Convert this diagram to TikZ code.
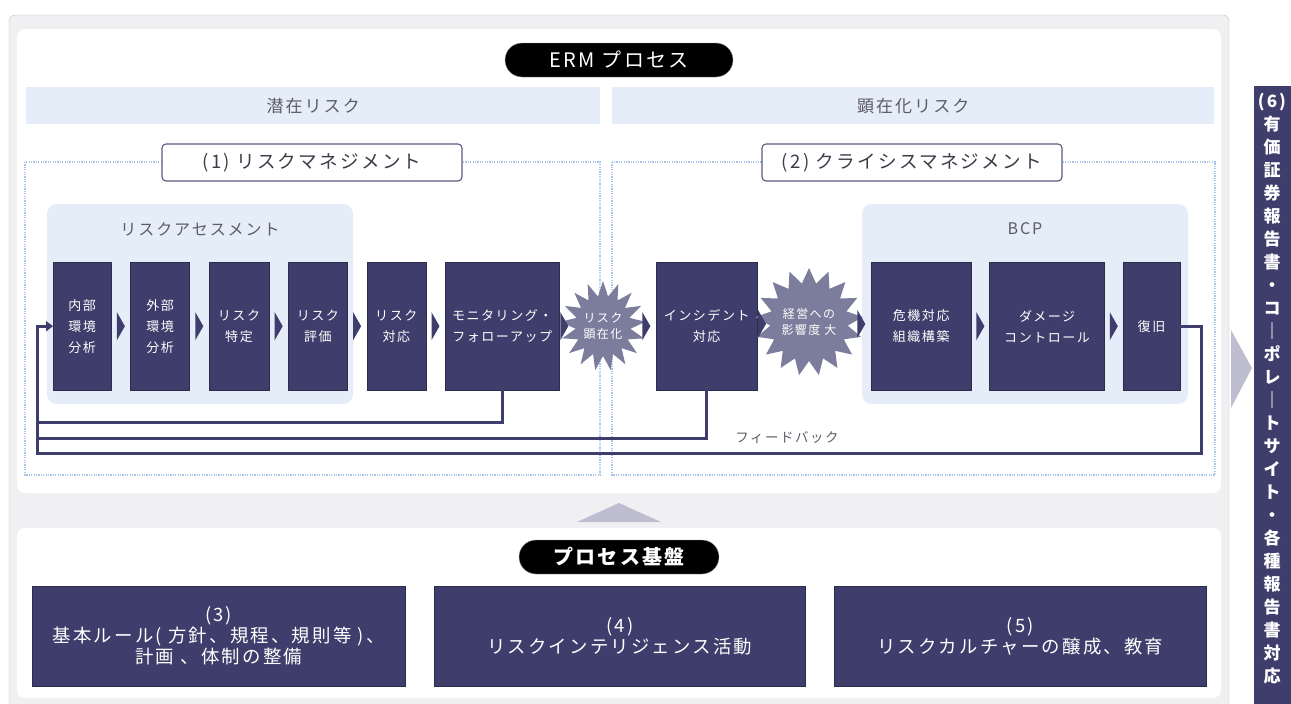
\documentclass[tikz,border=0pt]{standalone}
\usepackage{fontspec}
\setmainfont{Noto Sans CJK JP}[LetterSpace=12]
\usetikzlibrary{positioning,shapes.symbols,arrows.meta}

\definecolor{navy}{RGB}{62,61,107}
\definecolor{bandblue}{RGB}{228,237,248}
\definecolor{panel}{RGB}{240,240,243}
\definecolor{burstgray}{RGB}{124,124,156}
\definecolor{dotblue}{RGB}{168,198,232}
\definecolor{softtxt}{RGB}{92,92,104}
\definecolor{tagtxt}{RGB}{60,60,72}
\definecolor{trigray}{RGB}{190,190,208}

\newcommand\fs[2]{\fontsize{#1}{#2}\selectfont}

\tikzset{
  procbox/.style={fill=navy, draw=navy!70!black, text=white, align=center,
    inner sep=0pt, minimum height=128pt, font=\fs{13}{21}},
  basebox/.style={fill=navy, draw=navy!70!black, text=white, align=center,
    inner sep=0pt, minimum height=100pt, font=\fs{18.4}{21}},
  band/.style={fill=bandblue, text=softtxt, inner sep=0pt, minimum height=37pt,
    font=\fs{17}{20}},
  tag/.style={fill=white, draw=navy!85, line width=1.1pt, rounded corners=4pt,
    minimum width=300pt, minimum height=37pt, inner sep=0pt, text=tagtxt,
    font=\fs{18.6}{20}},
  pill/.style={fill=black, draw=black!40, text=white, rounded corners=17pt,
    minimum height=34pt, inner sep=0pt, font=\fs{20}{22}},
  burst/.style={starburst, random starburst=0, starburst points=17,
    starburst point height=15pt, fill=burstgray, text=white, align=center,
    inner sep=0pt, font=\fs{12}{16}},
  group/.style={fill=bandblue, rounded corners=10pt},
  grouptitle/.style={text=softtxt, font=\fs{16}{18}},
  dotframe/.style={draw=dotblue, line width=1.3pt, dash pattern=on 1.2pt off 1.2pt},
  fb/.style={draw=navy, line width=3pt},
  fbtxt/.style={text=softtxt, font=\fs{13.4}{16}},
  vtext/.style={text=white, align=center, inner sep=0pt, font=\fs{17}{23}\bfseries},
  chev/.pic={\fill[navy] (-4,-14) -- (4,0) -- (-4,14) -- cycle;}
}

\begin{document}
\begin{tikzpicture}[x=1pt,y=-1pt]
\useasboundingbox (0,0) rectangle (1291,704);

% panels
\draw[draw=black!25, fill=panel, rounded corners=6pt] (9,15) rectangle (1229,730);
\fill[white, rounded corners=8pt] (17,29) rectangle (1221,493);
\fill[white, rounded corners=8pt] (17,528) rectangle (1221,698);

% ERM process
\node[pill, minimum width=228pt] (erm) at (619,60) {ERM プロセス};
\node[band, minimum width=574pt, anchor=north west] (latent) at (26,87) {潜在リスク};
\node[band, minimum width=602pt, anchor=north west] (actual) at (612,87) {顕在化リスク};

\draw[dotframe] (25,162) rectangle (600,475);
\draw[dotframe] (612,162) rectangle (1215,475);
\node[tag] (rm) at (312,162.5) {(1) リスクマネジメント};
\node[tag] (cm) at (912,162.5) {(2) クライシスマネジメント};

\fill[group] (47,204) rectangle (353,404);
\node[grouptitle] (ratitle) at (200,229) {リスクアセスメント};
\fill[group] (862,204) rectangle (1188,404);
\node[grouptitle] (bcptitle) at (1025,229) {BCP};

% risk management steps
\node[procbox, minimum width=58pt, anchor=north west] (b1) at (53,262) {内部\\環境\\分析};
\node[procbox, minimum width=59pt, right=19pt of b1] (b2) {外部\\環境\\分析};
\node[procbox, minimum width=60pt, right=19pt of b2] (b3) {リスク\\特定};
\node[procbox, minimum width=59pt, right=19pt of b3] (b4) {リスク\\評価};
\node[procbox, minimum width=59pt, right=19pt of b4] (b5) {リスク\\対応};
\node[procbox, minimum width=114pt, right=19pt of b5] (b6) {モニタリング・\\フォローアップ};
\node[burst, minimum width=66pt, minimum height=90pt] (rk) at (603,326) {リスク\\顕在化};

% crisis management steps
\node[procbox, minimum width=101pt, anchor=north west] (inc) at (656,262) {インシデント\\対応};
\node[burst, minimum width=80pt, minimum height=108pt] (ke) at (809,322) {経営への\\影響度 大};
\node[procbox, minimum width=100pt, anchor=north west] (kiki) at (871,262) {危機対応\\組織構築};
\node[procbox, minimum width=115pt, right=18pt of kiki] (dmg) {ダメージ\\コントロール};
\node[procbox, minimum width=57pt, right=18pt of dmg] (rec) {復旧};

\foreach \a/\b in {b1/b2,b2/b3,b3/b4,b4/b5,b5/b6,b6/rk,rk/inc,inc/ke,ke/kiki,kiki/dmg,dmg/rec} {
  \path (\a) -- coordinate[midway] (m-\a) (\b);
  \pic at (m-\a) {chev};
}

% feedback
\coordinate (fb1) at (37,422);
\coordinate (fb2) at (37,438);
\coordinate (fbR) at (1201,453);
\coordinate (fbL) at (37,453);
\draw[fb] (b6.south) |- (fb1);
\draw[fb] (inc.south) |- (fb2);
\draw[fb, -{Triangle[length=7pt,width=10pt]}] (rec.east) -| (fbR) -- (fbL) |- (b1.west);
\node[fbtxt] (fbl) at (787,438) {フィードバック};

% foundation
\fill[trigray] (577,522) -- (619,503) -- (661,522) -- cycle;
\node[pill, minimum width=200pt, font=\fs{20}{22}\bfseries] (base) at (619,557) {プロセス基盤};
\node[basebox, minimum width=373pt, anchor=north west] (rules) at (32,586) {(3)\\基本ルール( 方針、規程、規則等 )、\\計画 、体制の整備};
\node[basebox, minimum width=371pt, anchor=north west] (intel) at (434,586) {(4)\\リスクインテリジェンス活動};
\node[basebox, minimum width=372pt, anchor=north west] (culture) at (834,586) {(5)\\リスクカルチャーの醸成、教育};

% disclosure
\fill[trigray] (1231,330) -- (1252,368) -- (1231,408) -- cycle;
\fill[navy] (1254,86) rectangle (1300,710);
\node[vtext] (report) at (1272,389) {(6)\\有\\価\\証\\券\\報\\告\\書\\・\\コ\\｜\\ポ\\レ\\｜\\ト\\サ\\イ\\ト\\・\\各\\種\\報\\告\\書\\対\\応};
\end{tikzpicture}
\end{document}
